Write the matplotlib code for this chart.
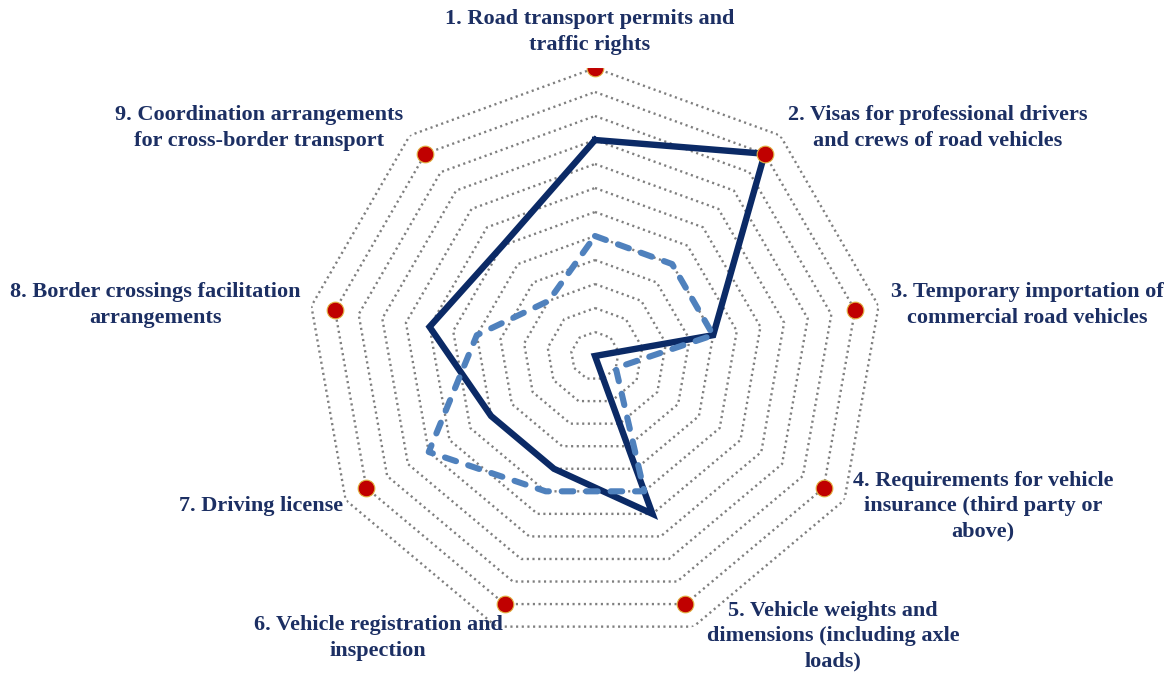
import numpy as np
import matplotlib
matplotlib.use("Agg")
import matplotlib.pyplot as plt

categories = [
    "1. Road transport permits and\ntraffic rights",
    "2. Visas for professional drivers\nand crews of road vehicles",
    "3. Temporary importation of\ncommercial road vehicles",
    "4. Requirements for vehicle\ninsurance (third party or\nabove)",
    "5. Vehicle weights and\ndimensions (including axle\nloads)",
    "6. Vehicle registration and\ninspection",
    "7. Driving license",
    "8. Border crossings facilitation\narrangements",
    "9. Coordination arrangements\nfor cross-border transport",
]
series_solid = [9, 11, 5, 0, 7, 5, 5, 7, 6]
series_dashed = [5, 5, 5, 1, 6, 6, 8, 5, 3]
series_dots = [12, 11, 11, 11, 11, 11, 11, 11, 11]
ring_levels = list(range(1, 13))
r_max = 12

# label layout (pixel centres in the 1172x675 figure)
label_px = [(590, 32), (938, 128), (1027, 305), (983, 506), (833, 636),
            (378, 638), (261, 506), (155, 305), (259, 128)]

W, H = 1172, 675
fig = plt.figure(figsize=(W / 100, H / 100), dpi=100)
cx, cy, R = 595, 356, 288
ax = fig.add_axes([(cx - R) / W, (H - cy - R) / H, 2 * R / W, 2 * R / H], projection="polar")
ax.set_theta_zero_location("N")
ax.set_theta_direction(-1)
ax.set_ylim(0, r_max)
ax.grid(False)
ax.set_xticks([])
ax.set_yticks([])
ax.spines["polar"].set_visible(False)
ax.patch.set_alpha(0)

n = len(categories)
theta = np.arange(n) * 2 * np.pi / n
theta_c = np.append(theta, theta[0])

for lev in ring_levels:
    ax.plot(theta_c, [lev] * (n + 1), color="#7F7F7F", lw=1.7,
            linestyle=(0, (0.9, 1.5)), zorder=1)

def closed(v):
    return list(v) + [v[0]]

ax.plot(theta_c, closed(series_solid), color="#0B2A66", lw=4.6,
        solid_joinstyle="miter", zorder=3)
ax.plot(theta_c, closed(series_dashed), color="#4F81BD", lw=4.4,
        linestyle=(0, (1.9, 2.1)), dash_capstyle="round", zorder=4)
ax.plot(theta, series_dots, linestyle="none", marker="o", markersize=12,
        markerfacecolor="#C00000", markeredgecolor="#E0B040", markeredgewidth=0.8,
        zorder=5)

for lab, (px, py) in zip(categories, label_px):
    fig.text(px / W, 1 - py / H, lab, ha="center", va="center",
             family="Liberation Serif", fontweight="bold", fontsize=16,
             color="#1C2F63", linespacing=1.35, multialignment="center")

fig.savefig("out.png", dpi=100)
